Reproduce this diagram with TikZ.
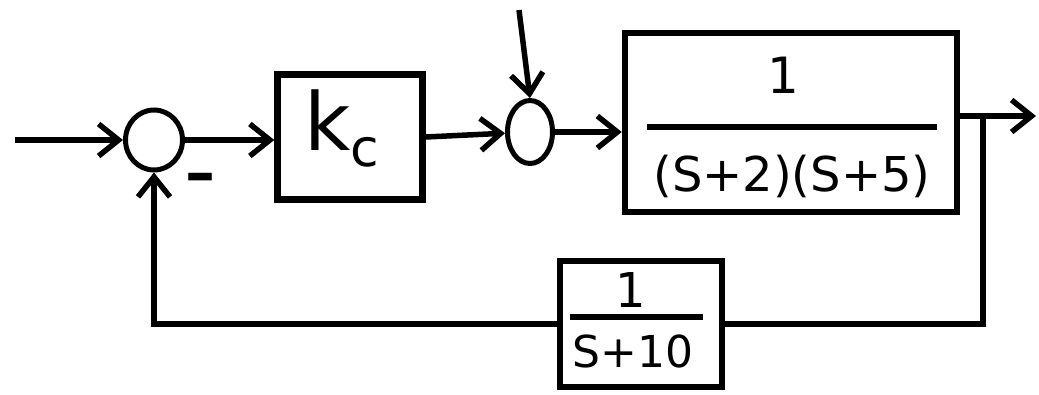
\documentclass[tikz,border=0pt]{standalone}
\usepackage{fontspec}
\setmainfont{DejaVu Sans}
\usetikzlibrary{arrows.meta,shapes.geometric,calc}
\begin{document}
\begin{tikzpicture}[x=1pt,y=-1pt, line width=5.5pt,
  blk/.style={draw, rectangle, line width=6.5pt, inner sep=0pt},
  sumnode/.style={draw, ellipse, line width=5pt, inner sep=0pt},
  lbl/.style={inner sep=0pt, font=\fontsize{#1}{#1}\selectfont},
  arr/.style={-{Straight Barb[length=20pt,width=32pt,line width=5.5pt]}}]
\useasboundingbox (0,0) rectangle (1039,394);
% blocks
\node[sumnode, minimum width=57pt, minimum height=60pt] (s1) at (154,140) {};
\node[blk, minimum width=145pt, minimum height=125pt] (kc) at (350,137) {};
\node[lbl=80] (kcl) at (342,128) {k\raisebox{-16pt}{\fontsize{52}{52}\selectfont c}};
\node[sumnode, minimum width=45pt, minimum height=63pt] (s2) at (530,132) {};
\node[blk, minimum width=332pt, minimum height=179pt] (plant) at (791,122.5) {};
\node[lbl=50] (pnum) at (783,75) {1};
\draw (647,127) -- (937,127);
\node[lbl=48] (pden) at (792,176) {(S+2)(S+5)};
\node[blk, minimum width=162pt, minimum height=126pt] (fb) at (641,324) {};
\node[lbl=48] (fnum) at (631,290) {1};
\draw (570,317) -- (703,317);
\node[lbl=44] (fden) at (633,351) {S+10};
\node[inner sep=0pt, font=\fontsize{60}{60}\selectfont\bfseries] (minus) at (200,183) {–};
% free ends
\coordinate (in) at (15,140);
\coordinate (dist) at (519,10);
\coordinate (br) at (983,116);
\coordinate (out) at (1036,116);
% connectors
\draw[arr] (in) -- (s1.west);
\draw[arr] (s1.east) -- (s1.east -| kc.west);
\draw[arr] (kc.east) -- (s2);
\draw[arr] (s2.east) -- (s2.east -| plant.west);
\draw[arr] (dist) -- (s2.north);
\draw[arr] (plant.east |- br) -- (out);
\draw (br) |- (fb.east);
\draw[arr] (fb.west) -| (s1.south);
\end{tikzpicture}
\end{document}
